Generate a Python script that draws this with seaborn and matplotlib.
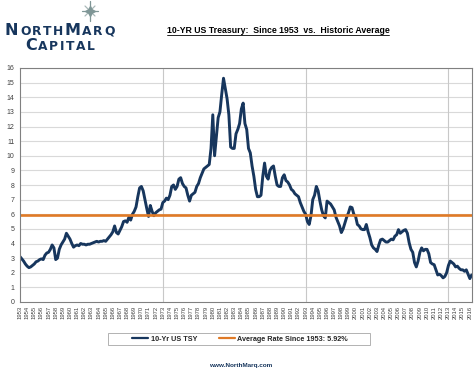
import numpy as np
import pandas as pd
import seaborn as sns
import matplotlib.pyplot as plt
from matplotlib.lines import Line2D
from matplotlib.patches import Rectangle

# quarterly 10-yr yield (first point = start of 1953)
first_year = 1953
tsy_quarterly = [
    3.1, 2.95, 2.8, 2.6,      # 1953
    2.45, 2.35, 2.4, 2.5,     # 1954
    2.6, 2.75, 2.8, 2.9,      # 1955
    2.95, 2.9, 3.2, 3.35,     # 1956
    3.4, 3.6, 3.9, 3.7,       # 1957
    2.9, 3.0, 3.6, 3.9,       # 1958
    4.1, 4.3, 4.7, 4.5,       # 1959
    4.3, 4.0, 3.75, 3.85,     # 1960
    3.9, 3.85, 4.0, 3.95,     # 1961
    3.95, 3.9, 3.95, 3.95,    # 1962
    4.0, 4.05, 4.1, 4.15,     # 1963
    4.1, 4.15, 4.15, 4.2,     # 1964
    4.15, 4.3, 4.45, 4.6,     # 1965
    4.8, 5.2, 4.75, 4.65,     # 1966
    4.9, 5.15, 5.5, 5.55,     # 1967
    5.45, 5.8, 5.6, 6.0,      # 1968
    6.2, 6.5, 7.2, 7.8,       # 1969
    7.9, 7.6, 7.0, 6.4,       # 1970
    5.85, 6.6, 6.2, 5.9,      # 1971
    6.1, 6.2, 6.3, 6.35,      # 1972
    6.8, 6.9, 7.1, 7.0,       # 1973
    7.3, 7.9, 8.0, 7.7,       # 1974
    7.9, 8.4, 8.5, 8.1,       # 1975
    7.9, 7.8, 7.3, 6.9,       # 1976
    7.3, 7.4, 7.5, 7.9,       # 1977
    8.1, 8.5, 8.8, 9.1,       # 1978
    9.2, 9.3, 9.4, 10.5,      # 1979
    12.8, 10.0, 11.3, 12.6,   # 1980
    13.0, 14.2, 15.3, 14.6,   # 1981
    13.9, 12.8, 10.6, 10.5,   # 1982
    10.5, 11.5, 11.8, 12.2,   # 1983
    13.2, 13.6, 12.2, 11.8,   # 1984
    10.5, 10.2, 9.3, 8.6,     # 1985
    7.7, 7.2, 7.2, 7.3,       # 1986
    8.6, 9.5, 8.6, 8.4,       # 1987
    9.0, 9.2, 9.3, 8.6,       # 1988
    8.0, 7.9, 7.9, 8.5,       # 1989
    8.7, 8.3, 8.2, 8.0,       # 1990
    7.7, 7.6, 7.4, 7.3,       # 1991
    7.2, 6.8, 6.5, 6.2,       # 1992
    6.0, 5.5, 5.3, 5.9,       # 1993
    7.0, 7.3, 7.9, 7.6,       # 1994
    6.9, 6.3, 5.9, 5.75,      # 1995
    6.9, 6.8, 6.7, 6.5,       # 1996
    6.3, 5.8, 5.5, 5.2,       # 1997
    4.75, 5.0, 5.4, 5.8,      # 1998
    6.1, 6.5, 6.45, 6.0,      # 1999
    5.85, 5.3, 5.2, 5.0,      # 2000
    4.95, 4.95, 5.3, 4.8,     # 2001
    4.4, 3.9, 3.7, 3.6,       # 2002
    3.45, 3.9, 4.25, 4.3,     # 2003
    4.2, 4.1, 4.1, 4.2,       # 2004
    4.3, 4.25, 4.5, 4.6,      # 2005
    4.95, 4.7, 4.8, 4.9,      # 2006
    4.95, 4.7, 4.05, 3.6,     # 2007
    3.4, 2.7, 2.4, 2.8,       # 2008
    3.4, 3.7, 3.5, 3.6,       # 2009
    3.6, 3.3, 2.7, 2.6,       # 2010
    2.55, 2.2, 1.85, 1.9,     # 2011
    1.8, 1.65, 1.75, 2.0,     # 2012
    2.5, 2.8, 2.7, 2.6,       # 2013
    2.4, 2.45, 2.3, 2.2,      # 2014
    2.2, 2.1, 2.2, 1.9,       # 2015
    1.6, 1.85,                # 2016
]
avg_rate = 5.92
tick_years = list(range(1953, 2017))
grid_years = [1973, 1993, 2013]
y_ticks = list(range(0, 17))

series_label = '10-Yr US TSY'
avg_label = 'Average Rate Since 1953: 5.92%'
title_text = '10-YR US Treasury:  Since 1953  vs.  Historic Average'

NAVY = '#17365D'
ORANGE = '#E07A26'
W, H = 474, 372

df = pd.DataFrame({'year': first_year + np.arange(len(tsy_quarterly)) / 4,
                   'rate': tsy_quarterly})

sns.set_style('white')
plt.rcParams['font.family'] = ['Liberation Sans', 'DejaVu Sans']

fig = plt.figure(figsize=(W / 100, H / 100), dpi=100)
ax = fig.add_axes([20 / W, 1 - 302 / H, 452 / W, 234 / H])

for yv in y_ticks[1:]:
    ax.axhline(yv, color='#D9D9D9', lw=0.8, zorder=0)
for gy in grid_years:
    ax.axvline(gy, color='#C8C8C8', lw=0.8, zorder=0)

sns.lineplot(data=df, x='year', y='rate', ax=ax, color=NAVY, lw=2.1, legend=False)
ax.axhline(avg_rate, color=ORANGE, lw=1.9)

ax.set_xlim(1953, 2016.3)
ax.set_ylim(0, 16)
ax.set_xticks(tick_years)
ax.set_xticklabels(tick_years, rotation=90, fontsize=4.2, color='#404040')
ax.set_yticks(y_ticks)
ax.tick_params(axis='y', length=0, pad=4, labelsize=5, labelcolor='#404040')
ax.tick_params(axis='x', length=1.5, pad=1.5, color='#808080')
ax.set_xlabel('')
ax.set_ylabel('')
for s in ax.spines.values():
    s.set_color('#808080')
    s.set_linewidth(0.8)

# legend with a wide box drawn separately
handles = [Line2D([], [], color=NAVY, lw=1.6), Line2D([], [], color=ORANGE, lw=1.6)]
ax.legend(handles, [series_label, avg_label], loc='center',
          bbox_to_anchor=(240 / W, 1 - 339 / H), bbox_transform=fig.transFigure,
          ncol=2, frameon=False, prop=dict(weight='bold', size=5.2),
          handlelength=2.2, handletextpad=0.4, columnspacing=3.0)
fig.add_artist(Rectangle((108 / W, 1 - 345 / H), 262 / W, 12 / H, fill=False,
                         edgecolor='#A6A6A6', lw=0.6))

r = fig.canvas.get_renderer()

# title, underlined
t = fig.text(278 / W, 1 - 33 / H, title_text, ha='center', va='baseline',
             fontsize=6.3, fontweight='bold', color='black')
bb = t.get_window_extent(renderer=r)
fig.add_artist(Line2D([bb.x0 / W, bb.x1 / W], [(H - 34.5) / H] * 2, color='black', lw=0.6))


def small_caps(x, y_base, word, big, small, track=1.5):
    for ch in word:
        size = big if ch.isupper() else small
        txt = fig.text(x / W, 1 - y_base / H, ch.upper(), fontsize=size,
                       fontweight='bold', color=NAVY, family='DejaVu Sans',
                       va='baseline')
        x = txt.get_window_extent(renderer=r).x1 + track


small_caps(5, 35, 'NorthMarq', 11.5, 8.8)
small_caps(25, 50, 'Capital', 11.5, 8.8)

# thin compass star above the logo
cx, cy = 90, 11
for dx, dy, c in [(0, 10, '#7F9696'), (8, 0, '#7F9696'), (5, 5, '#A9B9B9'), (5, -5, '#A9B9B9')]:
    fig.add_artist(Line2D([(cx - dx) / W, (cx + dx) / W], [1 - (cy - dy) / H, 1 - (cy + dy) / H],
                          color=c, lw=0.9))
fig.add_artist(Line2D([cx / W], [1 - cy / H], marker=(4, 1, 0), markersize=7,
                      color='#7F9696', lw=0))

fig.text(241 / W, 1 - 366 / H, 'www.NorthMarq.com', ha='center', va='center',
         fontsize=4.6, fontweight='bold', color=NAVY)

fig.savefig('out.png', dpi=100)
